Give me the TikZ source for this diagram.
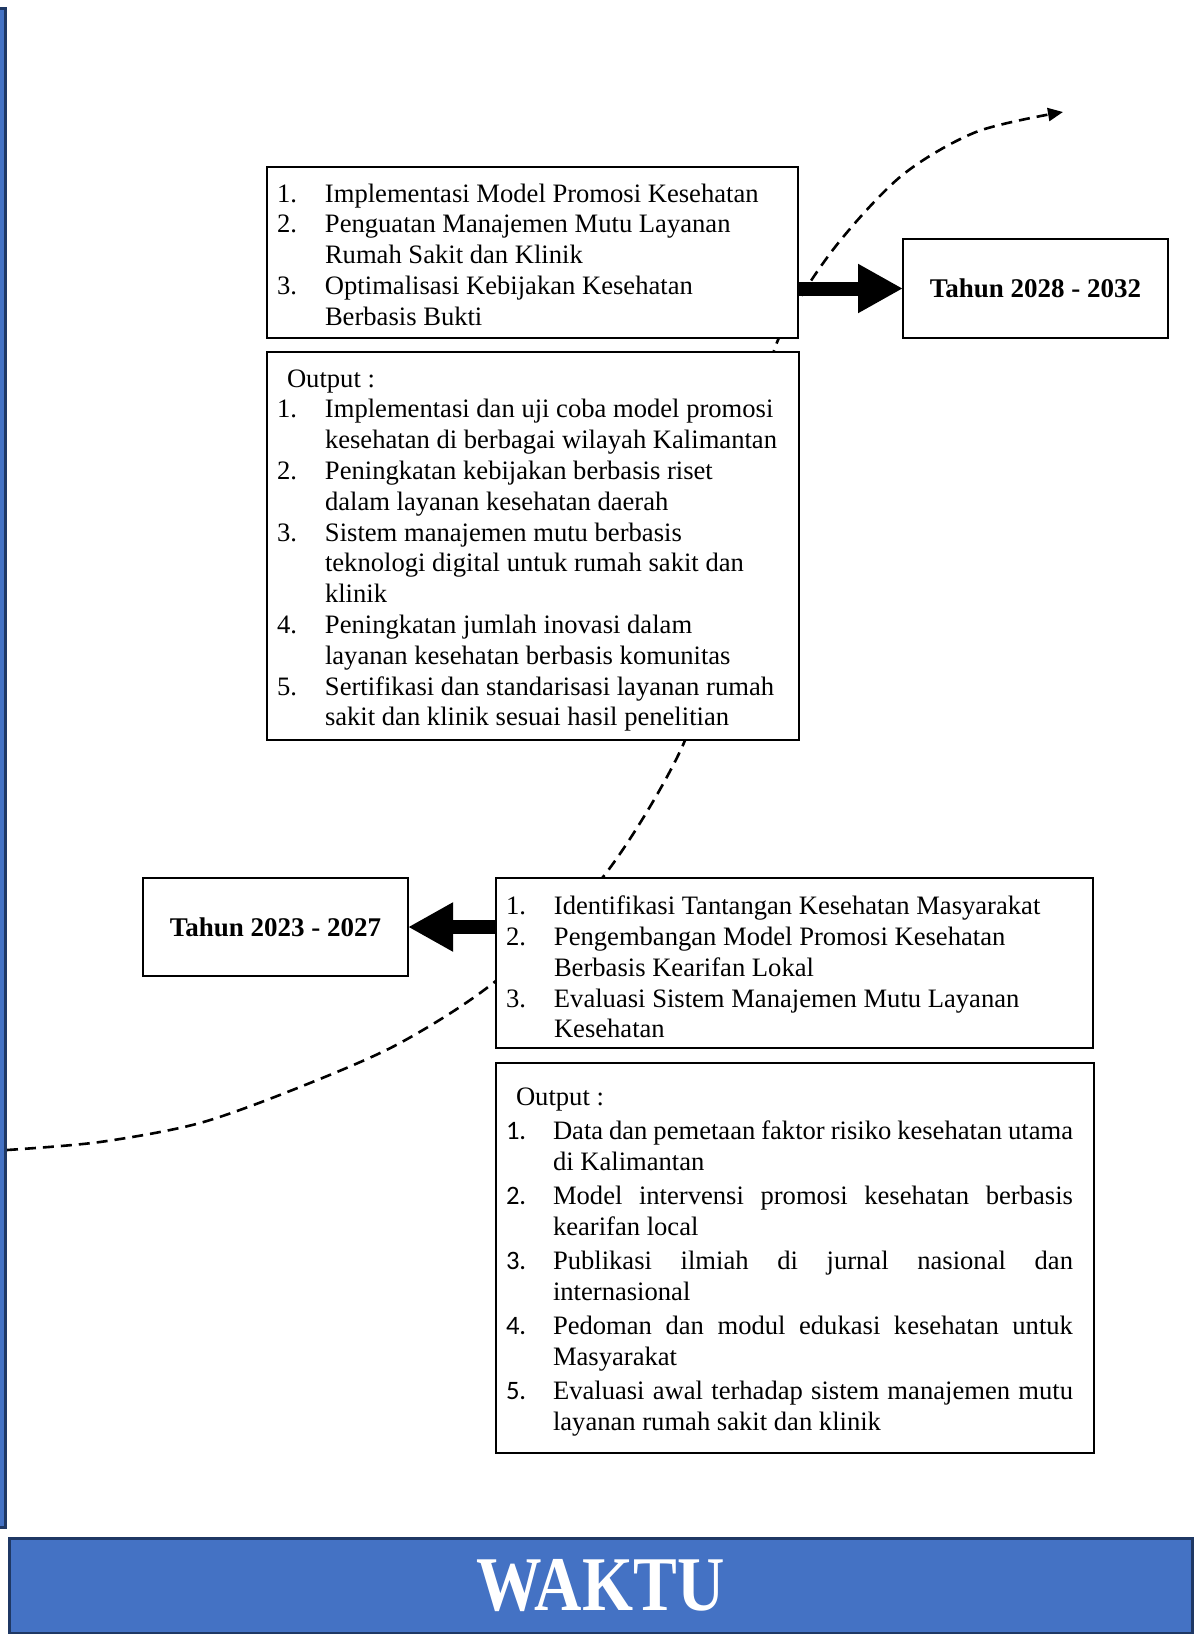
\documentclass[tikz,border=0pt]{standalone}
\usepackage{fontspec}
\setmainfont{Liberation Serif}
\newfontfamily\numfont{Carlito}
\usepackage{graphicx}
\usetikzlibrary{arrows.meta, positioning, backgrounds}
\definecolor{waktublue}{RGB}{68, 114, 196}
\definecolor{waktunavy}{RGB}{31, 56, 100}

\newlength{\itemhang}
\setlength{\itemhang}{24pt}
\newcommand{\listitem}[2]{\par\noindent\hangindent=\itemhang\hangafter=1\makebox[\itemhang][l]{\strut#1}#2}
% #1 width, #2 height, #3 space above the first line, #4 text
\newcommand{\boxtext}[4]{\parbox[c][#2][t]{#1}{\vspace*{#3}#4\par}}

\tikzset{
  listbox/.style={draw, line width=1pt, fill=white, anchor=north west, outer sep=0pt,
    inner xsep=5pt, inner ysep=0pt, font=\fontsize{13.3}{15.4}\selectfont},
  yearbox/.style={draw, line width=1pt, fill=white, anchor=north west, outer sep=0pt,
    inner sep=0pt, minimum width=132.5pt, font=\fontsize{13.5}{15.4}\selectfont\bfseries},
  blockarrow/.style={line width=7pt, -{Triangle[length=22.5pt, width=23pt]}},
  timeline/.style={line width=1.3pt, dash pattern=on 5.5pt off 3.5pt,
    -{Triangle[length=7.5pt, width=6.5pt]}}
}

\begin{document}
\begin{tikzpicture}[x=0.5pt, y=-0.5pt]
  \useasboundingbox (0,0) rectangle (1194,1634);

  % Time axis - vertical bar on the left
  \draw[waktunavy, fill=waktublue, line width=1.5pt] (-10,8) rectangle (5.5,1527);

  % Period 2028 - 2032
  \node[listbox] (plan2) at (267,167) {\boxtext{255.5pt}{85.5pt}{6.8pt}{\raggedright
    \listitem{1.}{Implementasi Model Promosi Kesehatan}
    \listitem{2.}{Penguatan Manajemen Mutu Layanan\newline Rumah Sakit dan Klinik}
    \listitem{3.}{Optimalisasi Kebijakan Kesehatan\newline Berbasis Bukti}}};
  \node[listbox, below=7pt of plan2.south west, anchor=north west] (out2)
    {\boxtext{256pt}{194pt}{6.8pt}{\raggedright
    \noindent\strut\hspace*{5pt}Output :
    \listitem{1.}{Implementasi dan uji coba model promosi\newline kesehatan di berbagai wilayah Kalimantan}
    \listitem{2.}{Peningkatan kebijakan berbasis riset\newline dalam layanan kesehatan daerah}
    \listitem{3.}{Sistem manajemen mutu berbasis\newline teknologi digital untuk rumah sakit dan\newline klinik}
    \listitem{4.}{Peningkatan jumlah inovasi dalam\newline layanan kesehatan berbasis komunitas}
    \listitem{5.}{Sertifikasi dan standarisasi layanan rumah\newline sakit dan klinik sesuai hasil penelitian}}};
  \node[yearbox, minimum height=49.5pt] (yr2) at (903,239) {Tahun 2028 - 2032};

  % Period 2023 - 2027
  \node[listbox] (plan1) at (496,878) {\boxtext{288.5pt}{85pt}{7.6pt}{\raggedright
    \listitem{1.}{Identifikasi Tantangan Kesehatan Masyarakat}
    \listitem{2.}{Pengembangan Model Promosi Kesehatan\newline Berbasis Kearifan Lokal}
    \listitem{3.}{Evaluasi Sistem Manajemen Mutu Layanan\newline Kesehatan}}};
  \node[listbox, below=7.5pt of plan1.south west, anchor=north west] (out1)
    {\boxtext{289pt}{195pt}{9pt}{%
    \fontsize{13.3}{15.5}\selectfont
    \setlength{\parskip}{1.5pt}\rightskip=5.5pt \setlength{\itemhang}{23.5pt}%
    \spaceskip=.25em plus .15em minus .08em
    \noindent\strut\hspace*{5pt}Output :
    \listitem{\numfont 1.}{Data dan pemetaan faktor risiko kesehatan utama\linebreak di Kalimantan}
    \listitem{\numfont 2.}{Model intervensi promosi kesehatan berbasis\linebreak kearifan local}
    \listitem{\numfont 3.}{Publikasi ilmiah di jurnal nasional dan\linebreak internasional}
    \listitem{\numfont 4.}{Pedoman dan modul edukasi kesehatan untuk\linebreak Masyarakat}
    \listitem{\numfont 5.}{Evaluasi awal terhadap sistem manajemen mutu\linebreak layanan rumah sakit dan klinik}}};
  \node[yearbox, minimum height=49pt] (yr1) at (143,878) {Tahun 2023 - 2027};

  % Block arrows to the years
  \draw[blockarrow] (plan2.east |- yr2.west) -- (yr2.west);
  \draw[blockarrow] (plan1.west |- yr1.east) -- (yr1.east);

  % Dashed time line behind the boxes
  \coordinate (tStart) at (7,1150);
  \coordinate (tEnd) at (1063,112);
  \begin{scope}[on background layer]
    \draw[timeline] plot[smooth] coordinates {(tStart) (100,1142) (200,1123) (300,1087)
      (400,1043) (497,980) (603,877) (683,745) (718,620) (748,470) (776,345) (829,255)
      (900,177) (976,132) (tEnd)};
  \end{scope}

  % Time label
  \node[draw=waktunavy, fill=waktublue, line width=1.5pt, anchor=north west, outer sep=0pt,
    minimum width=591.5pt, minimum height=47.5pt, text=white,
    font=\fontsize{32.8}{32.8}\selectfont\bfseries] (waktu) at (9,1538)
    {\raisebox{-4pt}{\scalebox{1}[1.18]{WAKTU}}};
\end{tikzpicture}
\end{document}
